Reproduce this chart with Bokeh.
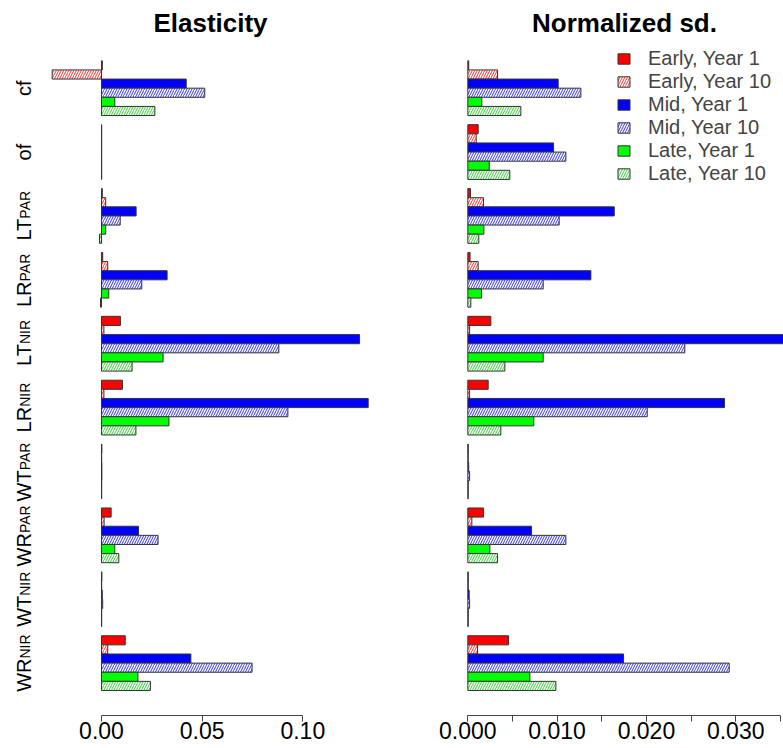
import math
from bokeh.plotting import figure
from bokeh.layouts import row
from bokeh.models import (Range1d, FixedTicker, PrintfTickFormatter, Legend,
                          LegendItem, ColumnDataSource)
from bokeh.embed import file_html
from bokeh.resources import INLINE
from bokeh.core.properties import value

# ---------------- data ----------------
cat_main = ["cf", "of", "LT", "LR", "LT", "LR", "WT", "WR", "WT", "WR"]
cat_sub = ["", "", "PAR", "PAR", "NIR", "NIR", "PAR", "PAR", "NIR", "NIR"]
series_names = ["Early, Year 1", "Early, Year 10", "Mid, Year 1",
                "Mid, Year 10", "Late, Year 1", "Late, Year 10"]

el_early_y1 = [0.0004, 0.0001, 0.0004, 0.0006, 0.0094, 0.0104, 0.0002, 0.0048, 0.0002, 0.0118]
el_early_y10 = [-0.0245, 0.0001, 0.0021, 0.0031, 0.0012, 0.0012, 0.0001, 0.0013, 0.0001, 0.0031]
el_mid_y1 = [0.0421, 0.0001, 0.0172, 0.0326, 0.1282, 0.1325, 0.0002, 0.0184, 0.0004, 0.0444]
el_mid_y10 = [0.0513, 0.0001, 0.0093, 0.0200, 0.0881, 0.0926, 0.0002, 0.0281, 0.0006, 0.0748]
el_late_y1 = [0.0066, 0.0001, 0.0021, 0.0036, 0.0306, 0.0335, 0.0001, 0.0066, 0.0001, 0.0181]
el_late_y10 = [0.0265, 0.0001, -0.0010, -0.0005, 0.0152, 0.0171, 0.0001, 0.0086, 0.0001, 0.0243]

sd_early_y1 = [0.0001, 0.00116, 0.0003, 0.00025, 0.00258, 0.00228, 0.00005, 0.00176, 0.00005, 0.00456]
sd_early_y10 = [0.00333, 0.00094, 0.00176, 0.00116, 0.0002, 0.0002, 0.00005, 0.00045, 0.00005, 0.00109]
sd_mid_y1 = [0.01012, 0.0096, 0.0164, 0.01378, 0.0380, 0.02875, 0.0001, 0.00713, 0.00015, 0.01744]
sd_mid_y10 = [0.01266, 0.01098, 0.01023, 0.00844, 0.0243, 0.02009, 0.0002, 0.01098, 0.0002, 0.02927]
sd_late_y1 = [0.00157, 0.0024, 0.0018, 0.00153, 0.00844, 0.00739, 0.00005, 0.00247, 0.00005, 0.00695]
sd_late_y10 = [0.00594, 0.0047, 0.00123, 0.00034, 0.00415, 0.0037, 0.00005, 0.00333, 0.00005, 0.00986]

el_ticks = [0.0, 0.05, 0.10]
sd_ticks = [0.0, 0.01, 0.02, 0.03]
sd_minor = [0.005, 0.015, 0.025, 0.035]

elasticity = [el_early_y1, el_early_y10, el_mid_y1, el_mid_y10, el_late_y1, el_late_y10]
normsd = [sd_early_y1, sd_early_y10, sd_mid_y1, sd_mid_y10, sd_late_y1, sd_late_y10]

# ---------------- styling ----------------
FONT = "Liberation Sans"
fills = ["#FF0000", "#FFFFFF", "#0000FF", "#FFFFFF", "#00FF00", "#FFFFFF"]
hatch_cols = [None, "#FF0000", None, "#0000FF", None, "#00CC00"]
border = "#333333"

H = 748
TOP = 39
BOT = 33
n_groups = len(cat_main)
n_ser = len(series_names)
pitch = n_ser + 1
px_per_unit = 9.126
u_top = (TOP - 60.3) / px_per_unit
u_bot = u_top + (H - TOP - BOT) / px_per_unit


def ypos(s):
    return [g * pitch + s + 0.5 for g in range(n_groups)]


def base_fig(title, frame_width, xr, mb_left, mb_right):
    p = figure(height=H, frame_width=frame_width, x_range=xr,
               y_range=Range1d(u_bot, u_top), min_border_left=mb_left,
               min_border_right=mb_right, min_border_top=TOP,
               min_border_bottom=BOT, y_axis_location=None,
               toolbar_location=None, output_backend="svg", title=title)
    p.xgrid.visible = False
    p.ygrid.visible = False
    p.outline_line_color = None
    p.title.align = "center"
    p.title.text_font = FONT
    p.title.text_font_size = "26px"
    p.title.text_font_style = "bold"
    p.title.text_color = "black"
    p.title.standoff = 3
    ax = p.xaxis[0]
    ax.axis_line_color = "#444444"
    ax.major_tick_line_color = "#444444"
    ax.minor_tick_line_color = "#444444"
    ax.major_tick_out = 6
    ax.major_tick_in = 0
    ax.minor_tick_out = 6
    ax.minor_tick_in = 0
    ax.major_label_standoff = 0
    ax.major_label_text_font = FONT
    ax.major_label_text_font_size = "23px"
    ax.major_label_text_color = "black"
    return p


def add_bars(p, data):
    rends = []
    for s in range(n_ser):
        src = ColumnDataSource(dict(y=ypos(s), v=data[s]))
        kw = dict(y="y", left=0, right="v", height=1, source=src,
                  fill_color=fills[s], line_color=border, line_width=1)
        if hatch_cols[s] is not None:
            kw.update(hatch_pattern="/", hatch_color=hatch_cols[s],
                      hatch_scale=5, hatch_weight=1, hatch_alpha=0.8)
        rends.append(p.hbar(**kw))
    return rends


# left panel
left = base_fig("Elasticity", 342, Range1d(-0.0308, 0.1391), 0, 44)
add_bars(left, elasticity)
left.xaxis[0].ticker = FixedTicker(ticks=el_ticks, minor_ticks=[])
left.xaxis[0].formatter = PrintfTickFormatter(format="%.2f")
left.xaxis[0].bounds = (el_ticks[0], el_ticks[-1])

# right panel
right = base_fig("Normalized sd.", 318, Range1d(-0.00026, 0.03535), 40, 0)
rr = add_bars(right, normsd)
right.xaxis[0].ticker = FixedTicker(ticks=sd_ticks, minor_ticks=sd_ticks + sd_minor)
right.xaxis[0].formatter = PrintfTickFormatter(format="%.3f")
right.xaxis[0].bounds = (sd_ticks[0], sd_minor[-1])

legend = Legend(items=[LegendItem(label=n, renderers=[r]) for n, r in zip(series_names, rr)],
                location=(151, 530), glyph_width=15, glyph_height=13,
                label_height=20, spacing=0, label_standoff=17, padding=0, margin=0,
                label_text_font=FONT, label_text_font_size="20px",
                border_line_alpha=0, background_fill_alpha=0)
right.add_layout(legend)

# category label strip
lab = figure(height=H, width=39, x_range=Range1d(0, 39), y_range=Range1d(u_bot, u_top),
             min_border_left=0, min_border_right=0, min_border_top=TOP,
             min_border_bottom=BOT, x_axis_location=None, y_axis_location=None,
             toolbar_location=None, output_backend="svg")
lab.xgrid.visible = False
lab.ygrid.visible = False
lab.outline_line_color = None

cw = {"L": .556, "T": .611, "R": .722, "W": .944, "c": .5, "f": .278, "o": .556,
      "P": .667, "A": .667, "N": .722, "I": .278}
MAIN_PX, SUB_PX = 20, 14
jy = []
for g in range(n_groups):
    wm = sum(cw[ch] for ch in cat_main[g]) * MAIN_PX
    ws = sum(cw[ch] for ch in cat_sub[g]) * SUB_PX
    jy.append(g * pitch + n_ser / 2 + (ws - wm) / 2 / px_per_unit)

lab.text(x=[23] * n_groups, y=jy, text=cat_main, angle=math.pi / 2,
         text_align="right", text_baseline="alphabetic",
         text_font=value(FONT), text_font_size="%dpx" % MAIN_PX, text_color="black")
lab.text(x=[24.5] * n_groups, y=jy, text=cat_sub, angle=math.pi / 2,
         text_align="left", text_baseline="alphabetic",
         text_font=value(FONT), text_font_size="%dpx" % SUB_PX, text_color="black")

layout = row(lab, left, right, spacing=0)
open("out.html", "w").write(file_html(layout, INLINE))
